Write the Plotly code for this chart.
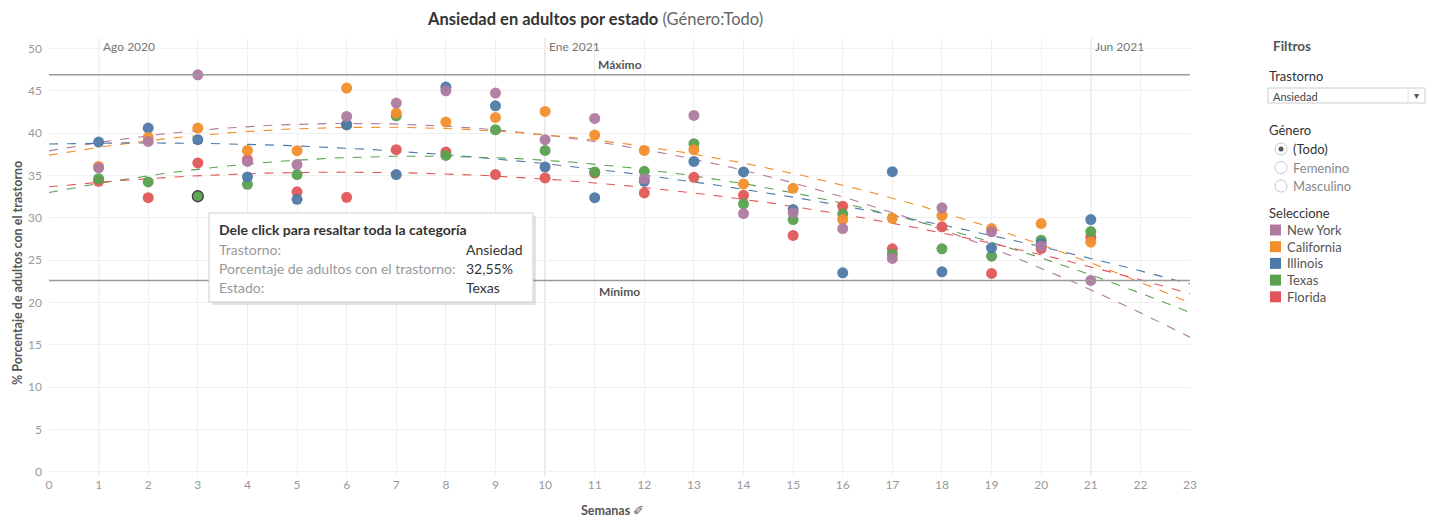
import numpy as np
import plotly.graph_objects as go

# semanas y % de adultos con ansiedad por estado
semanas = list(range(1, 22))
new_york = [35.90, 39.03, 46.90, 36.67, 36.29, 41.98, 43.56, 45.01, 44.74, 39.23, 41.75,
            34.60, 42.10, 30.51, 30.59, 28.74, 25.20, 31.18, 28.35, 26.65, 22.61]
california = [36.08, 39.50, 40.61, 37.97, 37.94, 45.33, 42.38, 41.32, 41.86, 42.57, 39.79,
              37.97, 38.05, 34.01, 33.49, 29.80, 29.95, 30.27, 28.74, 29.33, 27.12]
illinois = [38.96, 40.61, 39.23, 34.83, 32.19, 41.00, 35.11, 45.45, 43.24, 36.01, 32.39,
            34.32, 36.67, 35.42, 30.98, 23.51, 35.46, 23.63, 26.46, 26.97, 29.80]
texas = [34.63, 34.25, 32.55, 33.96, 35.11, 41.00, 42.06, 37.38, 40.41, 37.97, 35.42,
         35.50, 38.76, 31.65, 29.80, 30.47, 25.71, 26.34, 25.47, 27.36, 28.38]
florida = [34.32, 32.39, 36.49, 36.87, 33.07, 32.43, 38.05, 37.78, 35.11, 34.72, 35.30,
           32.95, 34.79, 32.67, 27.92, 31.37, 26.34, 28.94, 23.43, 26.38, 27.68]

estados = ["New York", "California", "Illinois", "Texas", "Florida"]
valores = [new_york, california, illinois, texas, florida]
colores = ["#B07AA1", "#F28E2B", "#4E79A7", "#59A14F", "#E15759"]

hitos_x = [1, 10, 21]
hitos_txt = ["Ago 2020", "Ene 2021", "Jun 2021"]

FONT = "Lato"
OFF = 8  # page body margin
W, H = 1436 - OFF, 517 - OFF
L, R, T, B = 49 - OFF, 246, 38 - OFF, 41


# page pixel -> paper helpers for the side panel / tooltip
def xp(px):
    return (px - OFF - L) / (W - L - R)


def yp(py):
    return (H - B - (py - OFF)) / (H - T - B)


fig = go.Figure()

xs = np.linspace(0, 23, 200)
# trend lines first (polynomial, grado 2)
for nombre, vals, col in zip(estados, valores, colores):
    coef = np.polyfit(semanas, vals, 2)
    fig.add_trace(go.Scatter(x=xs, y=np.polyval(coef, xs), mode="lines",
                             line=dict(color=col, width=1.1, dash="dash"),
                             hoverinfo="skip", showlegend=False))

# points, drawn bottom -> top
for nombre, vals, col in reversed(list(zip(estados, valores, colores))):
    lw = [0] * len(vals)
    if nombre == "Texas":
        lw[2] = 1.3
    fig.add_trace(go.Scatter(x=semanas, y=vals, mode="markers", name=nombre,
                             marker=dict(color=col, size=11, opacity=0.95,
                                         line=dict(color="#333333", width=lw)),
                             showlegend=False))

shapes = []
annots = []


def txt(px, py, text, size=13, color="#333333", xanchor="left", angle=0):
    annots.append(dict(x=xp(px), y=yp(py), xref="paper", yref="paper", xanchor=xanchor,
                       yanchor="middle", showarrow=False, text=text, textangle=angle,
                       font=dict(family=FONT, size=size, color=color)))


# max / min reference lines
vmax = max(max(v) for v in valores)
vmin = min(min(v) for v in valores)
for v, lab, ya, ys in [(vmax, "Máximo", "bottom", 1), (vmin, "Mínimo", "top", -2)]:
    shapes.append(dict(type="line", xref="paper", x0=0, x1=1, yref="y", y0=v, y1=v,
                       line=dict(color="#9a9a9a", width=1.5)))
    annots.append(dict(x=11.5, y=v, xref="x", yref="y", text="<b>" + lab + "</b>",
                       showarrow=False, yanchor=ya, yshift=ys,
                       font=dict(family=FONT, size=12, color="#555555")))

# date reference lines
for hx, ht in zip(hitos_x, hitos_txt):
    shapes.append(dict(type="line", x0=hx, x1=hx, xref="x", yref="paper", y0=0, y1=1,
                       line=dict(color="#d4d4d4", width=1.2), layer="below"))
    annots.append(dict(x=hx, y=yp(47), xref="x", yref="paper", text=ht, showarrow=False,
                       xanchor="left", yanchor="middle", xshift=2,
                       font=dict(family=FONT, size=12, color="#777777")))

# title and axis titles
txt(595, 19, "<b>Ansiedad en adultos por estado</b> <span style='color:#666'>(Género:Todo)</span>",
    16.5, "#333333", "center")
txt(17, 273, "<b>% Porcentaje de adultos con el trastorno</b>", 12.5, "#555555", "center", -90)
txt(612, 510, "<b>Semanas</b> ✐", 12.5, "#555555", "center")

# tooltip
tx0, tx1, ty0, ty1 = 209, 533, 213, 302
shapes.append(dict(type="rect", xref="paper", yref="paper", x0=xp(tx0 + 3), x1=xp(tx1 + 3),
                   y0=yp(ty1 + 3), y1=yp(ty0 + 3), fillcolor="rgba(0,0,0,0.10)", line=dict(width=0)))
shapes.append(dict(type="rect", xref="paper", yref="paper", x0=xp(tx0), x1=xp(tx1),
                   y0=yp(ty1), y1=yp(ty0), fillcolor="white", line=dict(color="#cfcfcf", width=1)))
txt(217, 229, "<b>Dele click para resaltar toda la categoría</b>", 14, "#333333")
filas = [("Trastorno:", "Ansiedad"), ("Porcentaje de adultos con el trastorno:", "32,55%"), ("Estado:", "Texas")]
for i, (k, v) in enumerate(filas):
    txt(217, 249 + i * 19, k, 14, "#999999")
    txt(464, 249 + i * 19, v, 14, "#333333")

# side panel
txt(1271, 46, "<b>Filtros</b>", 13.5, "#555555")
txt(1267, 76, "Trastorno", 13)
shapes.append(dict(type="rect", xref="paper", yref="paper", x0=xp(1268), x1=xp(1425), y0=yp(103), y1=yp(88),
                   fillcolor="white", line=dict(color="#cccccc", width=1)))
shapes.append(dict(type="line", xref="paper", yref="paper", x0=xp(1408), x1=xp(1408), y0=yp(103), y1=yp(88),
                   line=dict(color="#e0e0e0", width=1)))
txt(1271, 96, "Ansiedad", 11, "#444444")
txt(1412, 95, "▾", 10, "#555555")
txt(1267, 130, "Género", 13)
for i, (op, col) in enumerate([("(Todo)", "#333333"), ("Femenino", "#888888"), ("Masculino", "#888888")]):
    cy = 149 + i * 18.5
    shapes.append(dict(type="circle", xref="paper", yref="paper", x0=xp(1275), x1=xp(1287),
                       y0=yp(cy + 6), y1=yp(cy - 6), fillcolor="white", line=dict(color="#c8c8c8", width=1)))
    if i == 0:
        shapes.append(dict(type="circle", xref="paper", yref="paper", x0=xp(1278.5), x1=xp(1283.5),
                           y0=yp(cy + 2.5), y1=yp(cy - 2.5), fillcolor="#555555", line=dict(width=0)))
    txt(1291, cy, op, 13, col)
txt(1267, 213, "Seleccione", 13)
for i, (nombre, col) in enumerate(zip(estados, colores)):
    cy = 230 + i * 16.7
    shapes.append(dict(type="rect", xref="paper", yref="paper", x0=xp(1270), x1=xp(1281),
                       y0=yp(cy + 5.5), y1=yp(cy - 5.5), fillcolor=col, line=dict(width=0)))
    txt(1285, cy, nombre, 13, "#555555")

fig.update_layout(
    width=W, height=H,
    margin=dict(l=L, r=R, t=T, b=B, autoexpand=False),
    plot_bgcolor="white", paper_bgcolor="white",
    font=dict(family=FONT, size=12, color="#999999"),
    shapes=shapes, annotations=annots,
    showlegend=False,
    xaxis=dict(range=[0, 23], dtick=1, tick0=0, showgrid=True, gridcolor="#f0f0f0",
               zeroline=False, showline=False, ticks="", automargin=False,
               tickfont=dict(family=FONT, size=12, color="#999999")),
    yaxis=dict(range=[-0.5, 51.25], dtick=5, tick0=0, showgrid=True, gridcolor="#f0f0f0",
               zeroline=False, showline=False, ticks="", ticklabelstandoff=6, automargin=False,
               tickfont=dict(family=FONT, size=12, color="#999999")),
)

fig.write_html("out.html")
